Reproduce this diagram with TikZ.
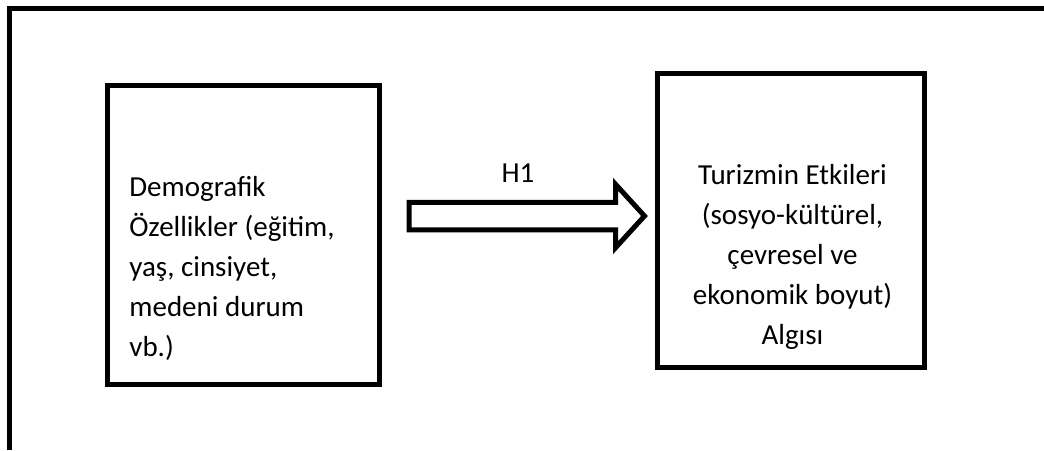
\documentclass[tikz,border=0pt]{standalone}
\usepackage{fontspec}
\setmainfont{Carlito}
\usepackage{tikz}
\usetikzlibrary{positioning, calc}

\begin{document}
\begin{tikzpicture}[x=0.5pt, y=-0.5pt,
	every node/.style={font=\fontsize{14.5pt}{20pt}\selectfont, text=black},
	framebox/.style={draw=black, line width=2.5pt, inner sep=0pt, outer sep=0pt},
	hollowarrow/.style={draw=black, fill=white, line width=2.5pt, line join=miter}]
	\useasboundingbox (0,0) rectangle (1044,450);
	
	% outer frame (only left and top edge are visible)
	\draw[line width=2.5pt] (9,450) -- (9,8) -- (1044,8);
	
	\node[framebox, minimum width=136.25pt, minimum height=149.5pt] (demo) at (243.25,235) {};
	\node[framebox, minimum width=133.5pt, minimum height=147.25pt] (etki) at (790.5,220.25) {};
	
	% base anchor of a multi-line node sits on its last line
	\node[anchor=base west, align=left, inner sep=0pt] (demotext) at (129,356.7)
		{Demografik\\ Özellikler (eğitim,\\ yaş, cinsiyet,\\ medeni durum\\ vb.)};
	\node[anchor=base, align=center, inner sep=0pt] (etkitext) at (792.5,344.7)
		{Turizmin Etkileri\\ (sosyo-kültürel,\\ çevresel ve\\ ekonomik boyut)\\ Algısı};
	
	\coordinate (tail) at ($(demo.east)+(29.5,-19)$);
	\coordinate (tip) at ($(etki.west)+(-12.5,-4.25)$);
	\draw[hollowarrow] (tail) ++(0,-13.75) -- ++(206.5,0) -- ++(0,-18) -- (tip)
		-- ++(-29,31.75) -- ++(0,-18) -- ++(-206.5,0) -- cycle;
	\node[anchor=base, inner sep=0pt] (h1) at (518,182.7) {H1};
\end{tikzpicture}
\end{document}
